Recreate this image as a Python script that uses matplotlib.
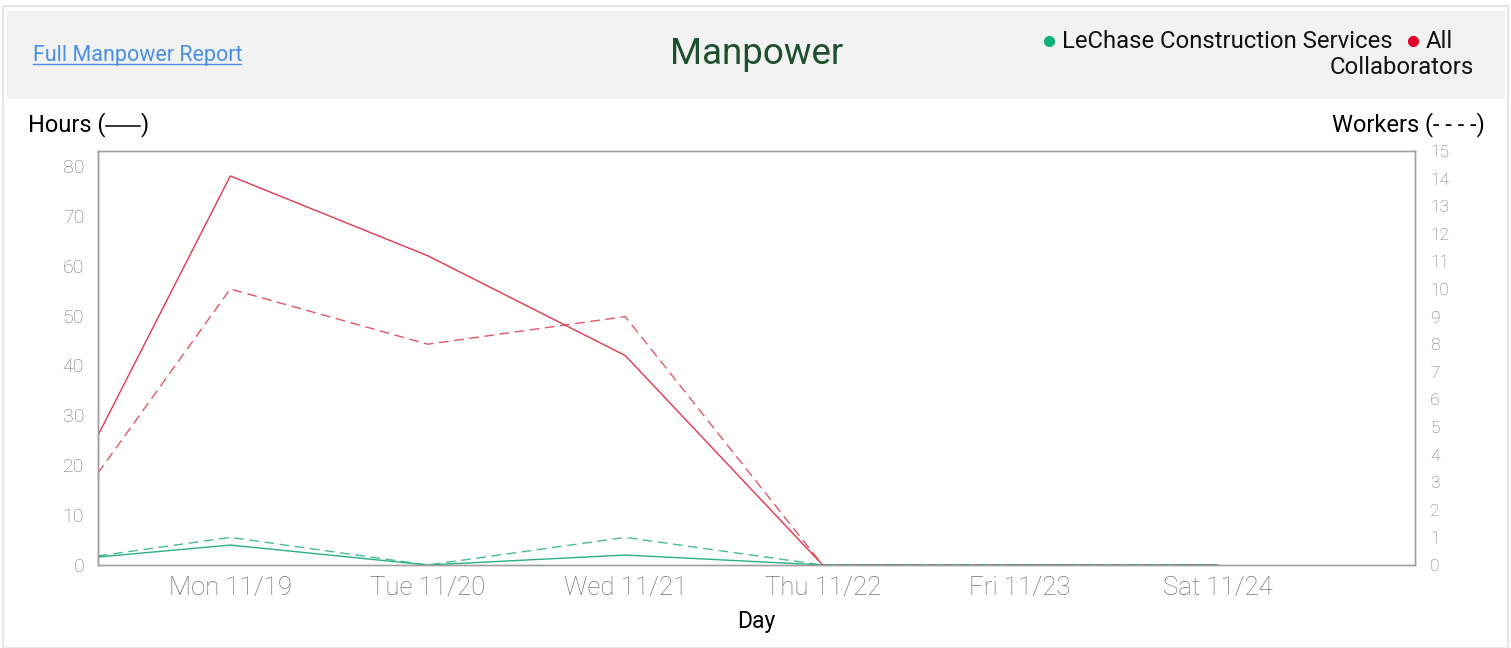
import matplotlib
matplotlib.use("Agg")
import matplotlib.pyplot as plt
from matplotlib.patches import Rectangle
from matplotlib.lines import Line2D

plt.rcParams['font.family'] = ['Roboto', 'DejaVu Sans']

# day positions (0 = Mon 11/19), first point is the partial Sunday
day_pos = [-0.67, 0, 1, 2, 3, 4, 5]
day_ticks = [0, 1, 2, 3, 4, 5]
day_labels = ["Mon 11/19", "Tue 11/20", "Wed 11/21", "Thu 11/22", "Fri 11/23", "Sat 11/24"]

lechase_hours = [1.6, 4, 0, 2, 0, 0, 0]
lechase_workers = [0.33, 1, 0, 1, 0, 0, 0]
all_hours = [26, 78, 62, 42, 0, 0, 0]
all_workers = [3.33, 10, 8, 9, 0, 0, 0]

green = "#2bb07e"
red = "#e0384f"


def fx(px):
    return px / 1511


def fy(px):
    return 1 - px / 648


fig = plt.figure(figsize=(15.11, 6.48), dpi=100)

# outer card border and header band
fig.patches.append(Rectangle((fx(3), 0), 1505 / 1511, 642 / 648, transform=fig.transFigure,
                             facecolor="white", edgecolor="#e6e6e6", lw=1.5, zorder=-2))
fig.patches.append(Rectangle((fx(7), fy(99)), 1498 / 1511, 88 / 648, transform=fig.transFigure,
                             facecolor="#f2f2f2", edgecolor="none", zorder=-1))

fig.text(fx(33), fy(55), "Full Manpower Report", color="#4a90e2", fontsize=15.5,
         ha="left", va="center")
fig.lines.append(Line2D([fx(33), fx(241)], [fy(64), fy(64)],
                        transform=fig.transFigure, color="#4a90e2", lw=1))
fig.text(fx(757), fy(54), "Manpower", color="#1f4f2f", fontsize=26.5,
         ha="center", va="center")

# legend, wrapped like the original
fig.lines.append(Line2D([fx(1049)], [fy(41)], transform=fig.transFigure,
                        marker="o", ms=7, color="#10b07a", lw=0))
fig.text(fx(1062), fy(41), "LeChase Construction Services", fontsize=17.2,
         ha="left", va="center", color="#111111")
fig.lines.append(Line2D([fx(1413)], [fy(41)], transform=fig.transFigure,
                        marker="o", ms=7, color="#e0002a", lw=0))
fig.text(fx(1426), fy(41), "All", fontsize=17.2, ha="left", va="center", color="#111111")
fig.text(fx(1474), fy(68), "Collaborators", fontsize=17.2, ha="right", va="center",
         color="#111111")

# axis captions; the long dash is drawn as one line
fig.text(fx(28), fy(125), "Hours (", fontsize=17, ha="left", va="center")
fig.lines.append(Line2D([fx(106), fx(140)], [fy(126), fy(126)],
                        transform=fig.transFigure, color="black", lw=1.1))
fig.text(fx(141), fy(125), ")", fontsize=17, ha="left", va="center")
fig.text(fx(1485), fy(125), "Workers (- - - -)", fontsize=17, ha="right", va="center")

ax = fig.add_axes([fx(98), 83 / 648, 1317 / 1511, 414 / 648])
ax2 = ax.twinx()

dash = (0, (7, 4))
ax.plot(day_pos, all_hours, color=red, lw=1.0)
ax2.plot(day_pos, all_workers, color=red, lw=1.0, linestyle=dash, alpha=0.85)
ax.plot(day_pos, lechase_hours, color=green, lw=1.0)
ax2.plot(day_pos, lechase_workers, color=green, lw=1.0, linestyle=dash, alpha=0.85)

ax.set_xlim(-0.67, 6.0)
ax.set_ylim(0, 83)
ax2.set_ylim(0, 15)
ax.set_yticks(range(0, 81, 10))
ax2.set_yticks(range(0, 16))
ax.set_xticks(day_ticks)
ax.set_xticklabels(day_labels)

for a in (ax, ax2):
    for s in a.spines.values():
        s.set_color("#a0a0a0")
        s.set_linewidth(1)
ax.spines["left"].set_color("#777777")

tick_grey = "#747474"
ax.tick_params(axis="x", length=0, pad=8, labelsize=18.5, labelcolor=tick_grey)
ax.tick_params(axis="y", length=0, pad=10, labelsize=14, labelcolor=tick_grey)
ax2.tick_params(axis="y", length=0, pad=11, labelsize=12.5, labelcolor=tick_grey)
for lab in ax.get_xticklabels() + ax.get_yticklabels() + ax2.get_yticklabels():
    lab.set_fontweight("light")

ax.set_xlabel("Day", fontsize=16.5, labelpad=7)

fig.savefig("out.png", dpi=100)
